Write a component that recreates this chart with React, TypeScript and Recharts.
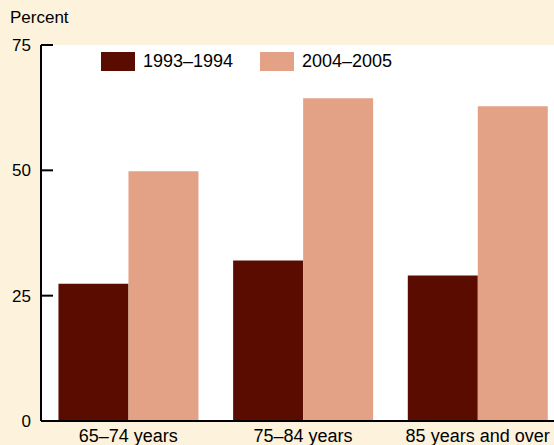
import React from 'react';
import { BarChart, Bar, XAxis, YAxis, CartesianGrid } from 'recharts';

const ageGroups = ['65–74 years', '75–84 years', '85 years and over'];
const period1993 = [27.4, 32, 29];
const period2004 = [49.8, 64.4, 62.8];
const yTicks = [0, 25, 50, 75];
const seriesNames = ['1993–1994', '2004–2005'];

const DARK = '#5a0c00';
const LIGHT = '#e3a286';
const CREAM = '#fdf2dc';
const FONT = 'Arial, "Liberation Sans", Helvetica, sans-serif';

const data = ageGroups.map((g, i) => ({
  group: g,
  a: period1993[i],
  b: period2004[i],
}));

function YTick(props: any) {
  const { x, y, payload } = props;
  return (
    <g>
      <line x1={x + 10} x2={x + 22} y1={y} y2={y} stroke="#000" strokeWidth={2} />
      <text x={x} y={y} dy="0.36em" textAnchor="end" fontSize={17} fill="#000" fontFamily={FONT}>
        {payload.value}
      </text>
    </g>
  );
}

function LegendBox() {
  const colors = [DARK, LIGHT];
  const lefts = [101, 260];
  return (
    <div style={{ position: 'absolute', left: 0, top: 52, width: 554, height: 20, fontFamily: FONT, fontSize: 18 }}>
      {seriesNames.map((n, i) => (
        <div key={n} style={{ position: 'absolute', left: lefts[i], top: 0, display: 'flex', alignItems: 'center' }}>
          <span style={{ display: 'inline-block', width: 34, height: 19, background: colors[i], marginRight: 8 }} />
          <span style={{ color: '#000', lineHeight: '19px' }}>{n}</span>
        </div>
      ))}
    </div>
  );
}

export default function App() {
  return (
    <div style={{ position: 'absolute', left: 0, top: 0, width: 554, height: 445, overflow: 'hidden', background: CREAM }}>
      <div style={{ position: 'absolute', left: 10, top: 8, fontFamily: FONT, fontSize: 17, color: '#000' }}>
        Percent
      </div>
      <BarChart
        width={565}
        height={445}
        data={data}
        margin={{ top: 45, right: 0, bottom: 0, left: 0 }}
        barCategoryGap="10%"
        barGap={0}
      >
        <CartesianGrid horizontal={false} vertical={false} fill="#ffffff" />
        <XAxis
          dataKey="group"
          height={24}
          tickLine={false}
          tickSize={0}
          tickMargin={8}
          axisLine={{ stroke: '#000', strokeWidth: 2 }}
          tick={{ fill: '#000', fontSize: 18, fontFamily: FONT }}
          interval={0}
        />
        <YAxis
          width={41}
          domain={[0, 75]}
          ticks={yTicks}
          tickLine={false}
          tickSize={0}
          tickMargin={10}
          axisLine={{ stroke: '#000', strokeWidth: 2 }}
          tick={<YTick />}
          interval={0}
        />
        <Bar dataKey="a" fill={DARK} isAnimationActive={false} />
        <Bar dataKey="b" fill={LIGHT} isAnimationActive={false} />
      </BarChart>
      <LegendBox />
    </div>
  );
}
